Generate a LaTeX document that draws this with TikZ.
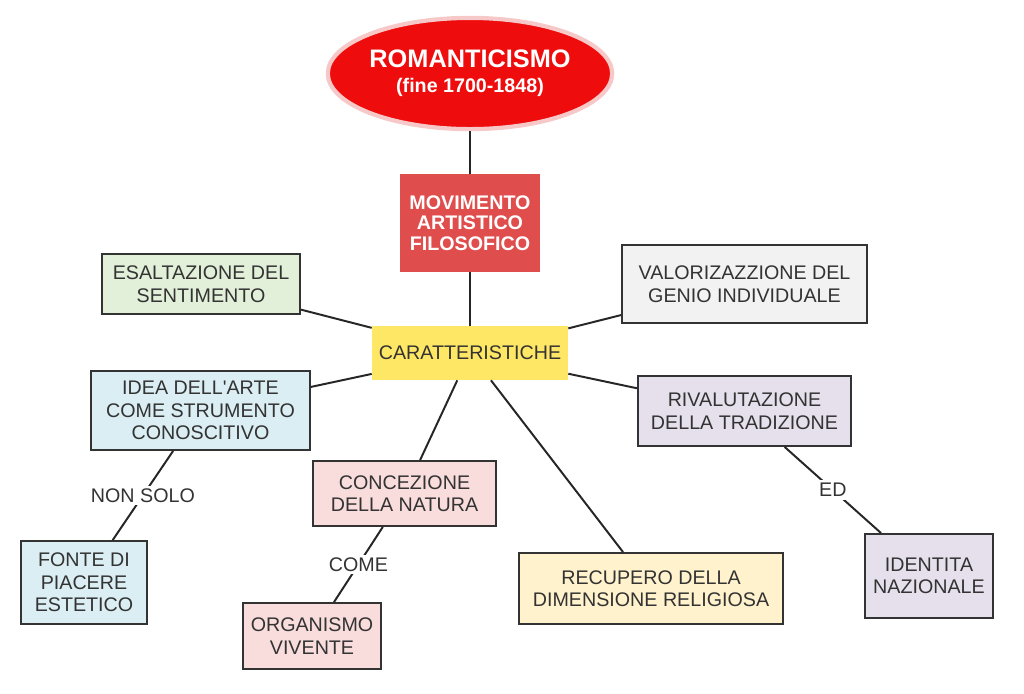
\documentclass[tikz,border=0pt]{standalone}
\usepackage{fontspec}
\setmainfont{Liberation Sans}
\definecolor{romred}{RGB}{238, 12, 12}
\definecolor{romglow}{RGB}{246, 200, 200}
\definecolor{movred}{RGB}{224, 77, 77}
\definecolor{caryellow}{RGB}{255, 231, 102}
\definecolor{sentgreen}{RGB}{226, 239, 217}
\definecolor{geniogray}{RGB}{242, 242, 242}
\definecolor{artblue}{RGB}{218, 238, 243}
\definecolor{tradlilac}{RGB}{229, 224, 236}
\definecolor{natpink}{RGB}{249, 220, 220}
\definecolor{relcream}{RGB}{255, 242, 204}
\definecolor{inkgray}{RGB}{51, 51, 51}
\usetikzlibrary{shapes}

\begin{document}
\begin{tikzpicture}[x=0.025cm, y=-0.025cm]
                \tikzstyle{box} = [draw=inkgray, line width=1.3pt, rectangle, inner sep=0pt, align=center, text=inkgray, font=\fontsize{14}{16}\selectfont]
                \tikzstyle{key} = [rectangle, inner sep=0pt, align=center, font=\fontsize{14}{14.5}\selectfont\bfseries]
                \tikzstyle{line} = [draw=black!85, line width=1.4pt]
                \tikzstyle{tag} = [fill=white, inner sep=2pt, text=inkgray, font=\fontsize{14}{16}\selectfont]

                \useasboundingbox (0,0) rectangle (1024,693);

                \node [ellipse, draw=romglow, line width=3pt, fill=romred, text=white, minimum width=6.55cm, minimum height=2.78cm, inner sep=0pt, align=center] (roman) at (470,73.5)
                    {\fontsize{18}{20}\selectfont\bfseries ROMANTICISMO\\[6pt]\fontsize{14}{16}\selectfont\bfseries (fine 1700-1848)};
                \node [key, fill=movred, text=white, minimum width=3.5cm, minimum height=2.45cm] (mov) at (470,223) {MOVIMENTO\\ARTISTICO\\FILOSOFICO};
                \node [key, fill=caryellow, text=inkgray, font=\fontsize{14}{16}\selectfont, minimum width=4.9cm, minimum height=1.35cm] (car) at (470,353) {CARATTERISTICHE};

                \node [box, fill=sentgreen, minimum width=4.95cm, minimum height=1.5cm] (sent) at (201,284) {ESALTAZIONE DEL\\SENTIMENTO};
                \node [box, fill=geniogray, minimum width=6.125cm, minimum height=1.95cm] (genio) at (744.5,284) {VALORIZAZZIONE DEL\\GENIO INDIVIDUALE};
                \node [box, fill=artblue, minimum width=5.475cm, minimum height=1.975cm] (arte) at (200.5,410.5) {IDEA DELL\textquotesingle ARTE\\COME STRUMENTO\\CONOSCITIVO};
                \node [box, fill=tradlilac, minimum width=5.325cm, minimum height=1.75cm] (trad) at (744.5,411) {RIVALUTAZIONE\\DELLA TRADIZIONE};
                \node [box, fill=natpink, minimum width=4.575cm, minimum height=1.625cm] (nat) at (404.5,493.5) {CONCEZIONE\\DELLA NATURA};
                \node [box, fill=relcream, minimum width=6.6cm, minimum height=1.775cm] (rel) at (651,588.5) {RECUPERO DELLA\\DIMENSIONE RELIGIOSA};
                \node [box, fill=artblue, minimum width=3.15cm, minimum height=2.075cm] (piacere) at (84,582.5) {FONTE DI\\PIACERE\\ESTETICO};
                \node [box, fill=natpink, minimum width=3.45cm, minimum height=1.65cm] (organ) at (312,636) {ORGANISMO\\VIVENTE};
                \node [box, fill=tradlilac, minimum width=3.2cm, minimum height=2.1cm] (ident) at (929,576) {IDENTITA\\NAZIONALE};

                \path [line] (roman) -- (mov);
                \path [line] (mov) -- (car);
                \path [line] (sent) -- (car);
                \path [line] (genio) -- (car);
                \path [line] (arte) -- (car);
                \path [line] (trad) -- (car);
                \path [line] (nat) -- (car);
                \path [line] (rel) -- (car);

                % Linking words
                \draw [line] (arte) -- node[tag]{NON SOLO} (piacere);
                \draw [line] (nat) -- node[tag]{COME} (organ);
                \draw [line] (trad) -- node[tag]{ED} (ident);
            \end{tikzpicture}
\end{document}
